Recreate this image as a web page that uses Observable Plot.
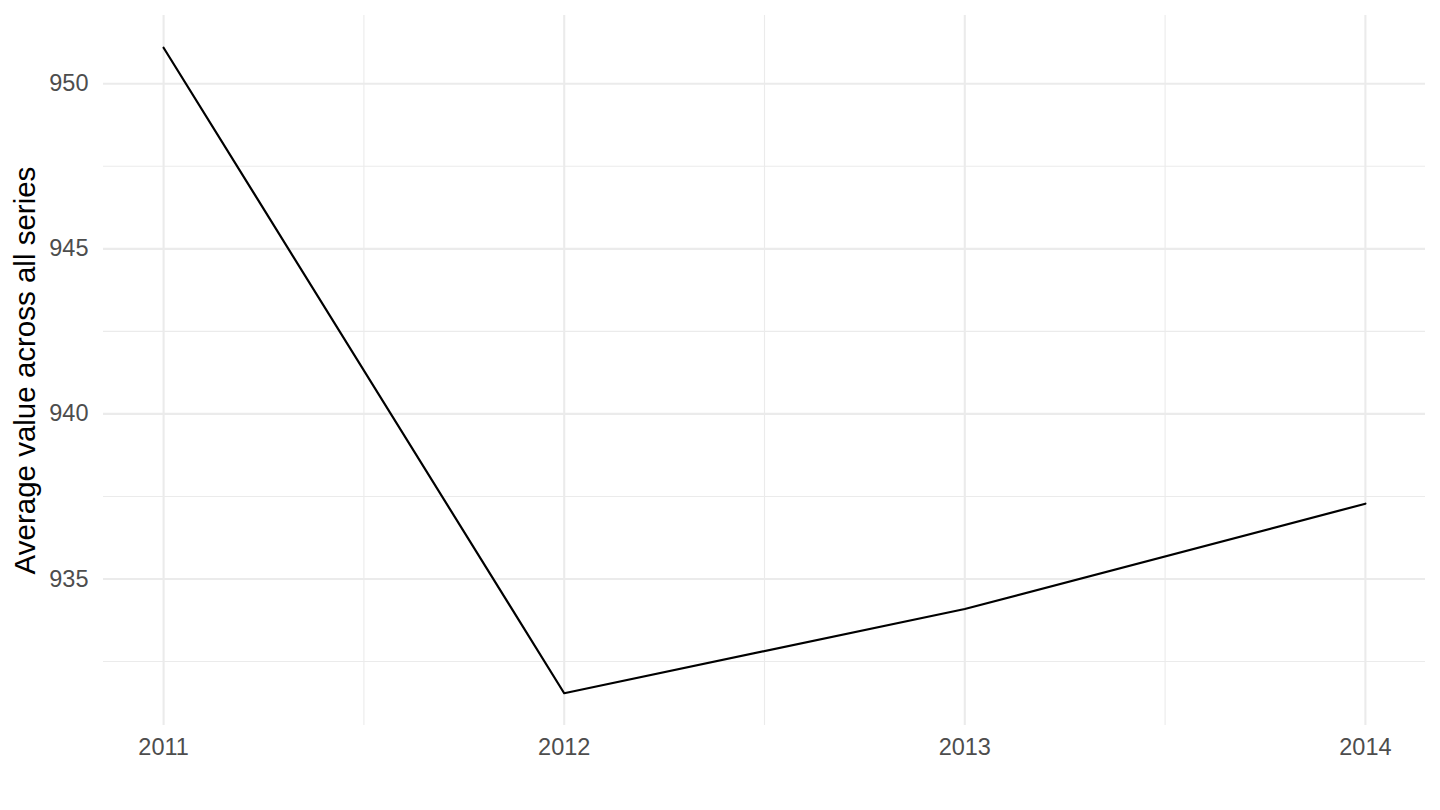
<!DOCTYPE html>
<html>
<head>
<meta charset="utf-8">
<script src="https://cdn.jsdelivr.net/npm/d3@7"></script>
<script src="https://cdn.jsdelivr.net/npm/@observablehq/plot@0.6"></script>
<style>
  html, body { margin: 0; padding: 0; background: #fff; }
  #chart svg { display: block; }
</style>
</head>
<body>
<div id="chart"></div>
<script>
const years = [2011, 2012, 2013, 2014];
const values = [951.09, 931.54, 934.09, 937.28];
const yMajor = [935, 940, 945, 950];
const yMinor = [932.5, 937.5, 942.5, 947.5];
const xMajor = [2011, 2012, 2013, 2014];
const xMinor = [2011.5, 2012.5, 2013.5];
const yTitle = "Average value across all series";

const data = years.map((y, i) => ({year: y, value: values[i]}));
const yMin = d3.min(values), yMax = d3.max(values);
const yPad = (yMax - yMin) * 0.05;
const xPad = (d3.max(years) - d3.min(years)) * 0.05;

const chart = Plot.plot({
  width: 1440,
  height: 810,
  marginLeft: 103,
  marginRight: 15,
  marginTop: 15,
  marginBottom: 85,
  style: {fontFamily: "'Liberation Sans', Arial, sans-serif", background: "#fff"},
  x: {domain: [d3.min(years) - xPad, d3.max(years) + xPad]},
  y: {domain: [yMin - yPad, yMax + yPad]},
  marks: [
    Plot.ruleY(yMinor, {stroke: "#ebebeb", strokeWidth: 1.1}),
    Plot.ruleX(xMinor, {stroke: "#ebebeb", strokeWidth: 1.1}),
    Plot.ruleY(yMajor, {stroke: "#ebebeb", strokeWidth: 2.1}),
    Plot.ruleX(xMajor, {stroke: "#ebebeb", strokeWidth: 2.1}),
    Plot.axisX({ticks: xMajor, tickFormat: d => String(d), tickSize: 0, tickPadding: 13, fontSize: 23.5, color: "#4d4d4d", label: null}),
    Plot.axisY({ticks: yMajor, tickFormat: d => String(d), tickSize: 0, tickPadding: 15, fontSize: 23.5, color: "#4d4d4d", label: null}),
    Plot.text([yTitle], {frameAnchor: "left", textAnchor: "middle", dx: -78, rotate: -90, fontSize: 29.5, fill: "#000", text: d => d}),
    Plot.line(data, {x: "year", y: "value", stroke: "#000", strokeWidth: 2.2})
  ]
});
document.getElementById("chart").appendChild(chart);
</script>
</body>
</html>
